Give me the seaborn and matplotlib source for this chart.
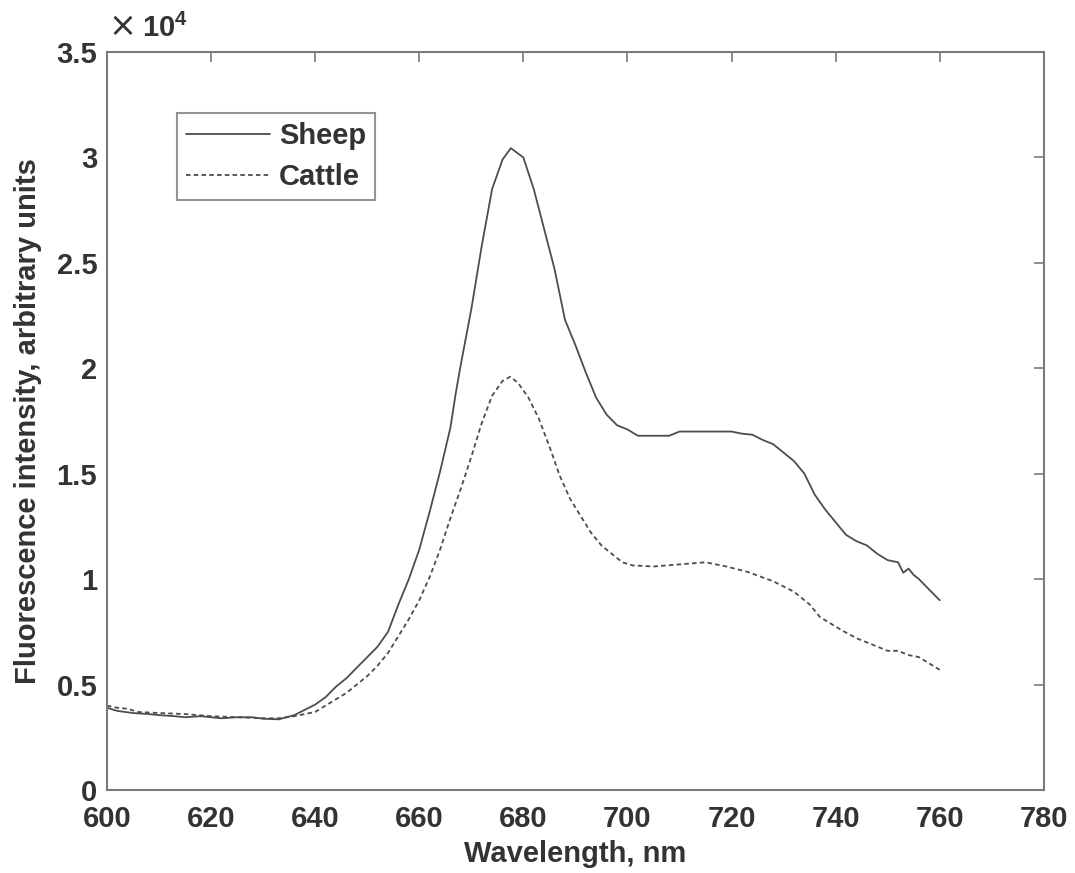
import numpy as np
import pandas as pd
import matplotlib
matplotlib.use('Agg')
import matplotlib.pyplot as plt
import matplotlib.ticker as mticker
import seaborn as sns

# values (intensity, arbitrary units)
sheep_nm = [600, 602, 605, 608, 610, 613, 615, 618, 620, 622, 625, 628, 630, 633, 636,
            638, 640, 642, 644, 646, 648, 650, 652, 654, 656, 658, 660, 662, 664, 666,
            667, 668, 670, 672, 674, 676, 677.6, 680, 682, 684, 686, 688, 690, 692, 694,
            696, 698, 700, 702, 704, 706, 708, 710, 712, 714, 716, 718, 720, 722, 724,
            726, 728, 730, 732, 734, 736, 738, 740, 742, 744, 746, 748, 750, 752, 753,
            754, 755, 756, 758, 760]
sheep = [3900, 3750, 3650, 3600, 3550, 3500, 3450, 3500, 3450, 3400, 3450, 3450, 3380, 3350, 3550,
         3800, 4050, 4400, 4900, 5300, 5800, 6300, 6800, 7500, 8800, 10000, 11400, 13200, 15100, 17200,
         18800, 20200, 22800, 25800, 28500, 29900, 30440, 30000, 28500, 26600, 24700, 22300, 21100, 19800, 18600,
         17800, 17300, 17100, 16800, 16800, 16800, 16800, 17000, 17000, 17000, 17000, 17000, 17000, 16900, 16850,
         16600, 16400, 16000, 15600, 15000, 14000, 13300, 12700, 12100, 11800, 11600, 11200, 10900, 10800, 10300,
         10500, 10200, 10000, 9500, 9000]

cattle_nm = [600, 602, 604, 606, 610, 615, 620, 625, 630, 633, 636, 638, 640, 642, 644,
             646, 648, 650, 652, 654, 656, 658, 660, 662, 664, 666, 668, 670, 672, 674,
             676, 677.5, 679, 681, 683, 685, 687, 689, 691, 693, 695, 697, 699, 701, 705,
             710, 715, 719, 723, 728, 732, 735, 737, 741, 744, 748, 750, 752, 754, 756,
             758, 760]
cattle = [4000, 3900, 3850, 3700, 3650, 3600, 3500, 3450, 3400, 3400, 3500, 3600, 3700, 4000, 4300,
          4600, 5000, 5400, 5900, 6500, 7300, 8100, 9000, 10100, 11400, 12900, 14300, 15800, 17400, 18700,
          19400, 19600, 19300, 18600, 17600, 16300, 14900, 13800, 13000, 12200, 11600, 11200, 10800, 10650, 10600,
          10700, 10800, 10600, 10350, 9900, 9400, 8800, 8200, 7600, 7200, 6800, 6600, 6600, 6400, 6300,
          6000, 5700]

df = pd.concat([
    pd.DataFrame({'Wavelength': sheep_nm, 'Intensity': sheep, 'Species': 'Sheep'}),
    pd.DataFrame({'Wavelength': cattle_nm, 'Intensity': cattle, 'Species': 'Cattle'}),
])

sns.set_style('white')
plt.rcParams['font.family'] = ['Liberation Sans', 'DejaVu Sans']
plt.rcParams['font.weight'] = 'bold'
plt.rcParams['mathtext.fontset'] = 'custom'
plt.rcParams['mathtext.bf'] = 'Liberation Sans:bold'
plt.rcParams['mathtext.rm'] = 'Liberation Sans'

axis_col = '#7a7a7a'
text_col = '#333333'
fs = 21

fig = plt.figure(figsize=(10.75, 8.73), dpi=100)
ax = fig.add_axes([0.0995, 0.0951, 0.8715, 0.8453])

sns.lineplot(data=df, x='Wavelength', y='Intensity', hue='Species', style='Species',
             palette={'Sheep': '#4d4d4d', 'Cattle': '#4d4d4d'},
             dashes={'Sheep': '', 'Cattle': (2.5, 1.8)},
             estimator=None, sort=False, linewidth=1.3, ax=ax)

ax.set_xlim(600, 780)
ax.set_ylim(0, 35000)
ax.set_xticks(np.arange(600, 781, 20))
ax.set_yticks(np.arange(0, 35001, 5000))
ax.yaxis.set_major_formatter(mticker.FuncFormatter(lambda v, p: '%g' % (v / 1e4)))

for sp in ax.spines.values():
    sp.set_visible(True)
    sp.set_color(axis_col)
    sp.set_linewidth(1.5)
ax.tick_params(direction='in', length=7, width=1.2, color=axis_col,
               top=True, right=True, labelsize=fs, labelcolor=text_col)
ax.tick_params(axis='x', pad=11)
ax.tick_params(axis='y', pad=7)
for lab in ax.get_xticklabels() + ax.get_yticklabels():
    lab.set_fontweight('bold')

ax.set_xlabel('Wavelength, nm', fontsize=fs, fontweight='bold', color=text_col)
ax.set_ylabel('Fluorescence intensity, arbitrary units', fontsize=fs, fontweight='bold',
              color=text_col)
ax.xaxis.set_label_coords(0.5, -0.068)
ax.yaxis.set_label_coords(-0.069, 0.5)

# MATLAB-style exponent label above the y axis
ax.text(0.002, 1.034, '\u00d7', transform=ax.transAxes, fontsize=24, fontweight='normal',
        family='DejaVu Sans', color=text_col, va='center', ha='left')
ax.text(0.037, 1.012, r'$\mathbf{10^4}$', transform=ax.transAxes, fontsize=fs,
        color=text_col, va='bottom', ha='left')

handles, labels = ax.get_legend_handles_labels()
leg = ax.legend(handles, labels, loc='upper left', bbox_to_anchor=(0.0747, 0.917),
                borderaxespad=0, fancybox=False, frameon=True, fontsize=fs,
                handlelength=2.9, handletextpad=0.3, borderpad=0.3, labelspacing=0.45)
leg.get_frame().set_edgecolor(axis_col)
leg.get_frame().set_linewidth(1.5)
for t in leg.get_texts():
    t.set_color(text_col)
    t.set_fontweight('bold')

fig.savefig('out.png', dpi=100)
